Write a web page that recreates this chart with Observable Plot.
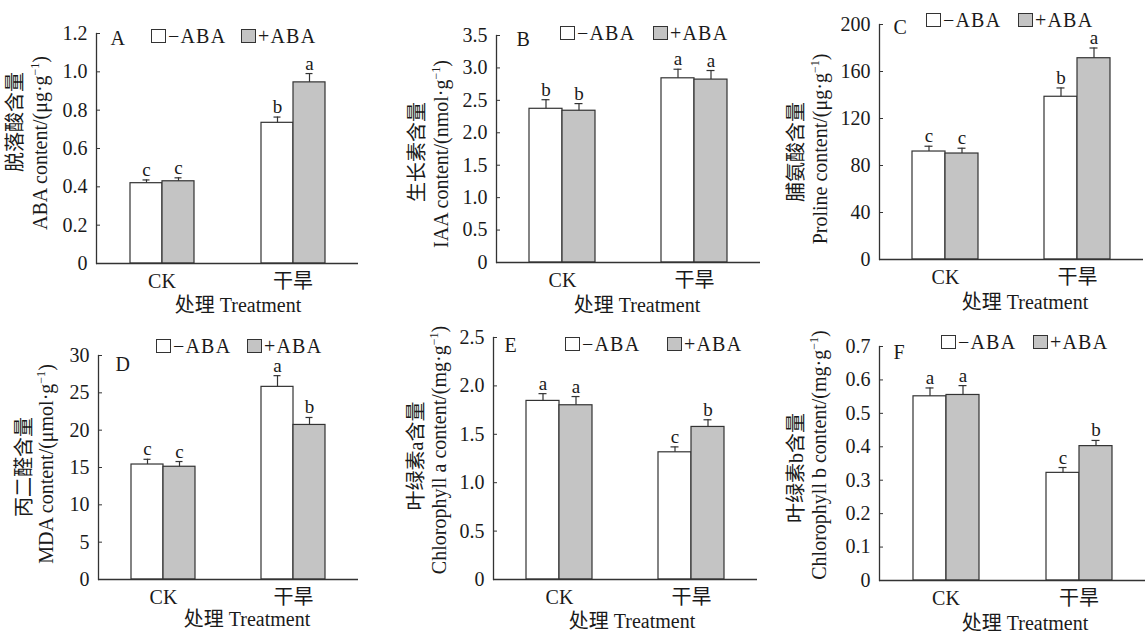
<!DOCTYPE html>
<html><head><meta charset="utf-8">
<script src="https://cdn.jsdelivr.net/npm/d3@7"></script>
<script src="https://cdn.jsdelivr.net/npm/@observablehq/plot@0.6"></script>
<style>
body{margin:0;background:#fff;}
#root{position:relative;width:1145px;height:633px;overflow:hidden;font-family:"Liberation Serif","Noto Sans CJK SC",serif;color:#1a1a1a;}
.panel{position:absolute;}
.panel svg{overflow:visible;}
.ylab{position:absolute;white-space:nowrap;font-size:20px;line-height:20px;transform:translate(-50%,-50%) rotate(-90deg);}
.xlab{position:absolute;white-space:nowrap;font-size:20px;line-height:20px;transform:translateX(-50%);}
.sw{position:absolute;box-sizing:border-box;width:15px;height:14px;border:1.2px solid #333;}
.lt{position:absolute;font-size:20px;line-height:12px;white-space:nowrap;letter-spacing:1.2px;}
sup{font-size:12px;vertical-align:0;position:relative;top:-8px;}
</style>
</head><body><div id="root"></div>
<script>
const FONT = '"Liberation Serif","Noto Sans CJK SC",serif';
const treatments = ["CK", "干旱"];
const seriesNames = ["−ABA", "+ABA"];
const seriesFill = ["#ffffff", "#c4c4c4"];
const xTitle = "处理 Treatment";

// order of values: CK −ABA, CK +ABA, 干旱 −ABA, 干旱 +ABA
const abaMean = [0.419, 0.429, 0.734, 0.945];
const abaErr  = [0.017, 0.018, 0.030, 0.046];
const abaSig  = ["c", "c", "b", "a"];
const abaTicks = [0, 0.2, 0.4, 0.6, 0.8, 1.0, 1.2];

const iaaMean = [2.37, 2.34, 2.84, 2.82];
const iaaErr  = [0.14, 0.11, 0.14, 0.14];
const iaaSig  = ["b", "b", "a", "a"];
const iaaTicks = [0, 0.5, 1.0, 1.5, 2.0, 2.5, 3.0, 3.5];

const proMean = [91.9, 90.2, 138.5, 171.3];
const proErr  = [4.5, 4.5, 7.5, 8.7];
const proSig  = ["c", "c", "b", "a"];
const proTicks = [0, 40, 80, 120, 160, 200];

const mdaMean = [15.4, 15.1, 25.8, 20.7];
const mdaErr  = [0.7, 0.7, 1.5, 1.0];
const mdaSig  = ["c", "c", "a", "b"];
const mdaTicks = [0, 5, 10, 15, 20, 25, 30];

const chlaMean = [1.845, 1.80, 1.314, 1.576];
const chlaErr  = [0.075, 0.09, 0.056, 0.074];
const chlaSig  = ["a", "a", "c", "b"];
const chlaTicks = [0, 0.5, 1.0, 1.5, 2.0, 2.5];

const chlbMean = [0.551, 0.555, 0.322, 0.402];
const chlbErr  = [0.025, 0.028, 0.016, 0.017];
const chlbSig  = ["a", "a", "c", "b"];
const chlbTicks = [0, 0.1, 0.2, 0.3, 0.4, 0.5, 0.6, 0.7];

const panelLetters = ["A", "B", "C", "D", "E", "F"];
const yLabel1 = ["脱落酸含量", "生长素含量", "脯氨酸含量", "丙二醛含量", "叶绿素a含量", "叶绿素b含量"];
const yLabel2 = ["ABA content/(μg·g<sup>−1</sup>)", "IAA content/(nmol·g<sup>−1</sup>)",
  "Proline content/(μg·g<sup>−1</sup>)", "MDA content/(μmol·g<sup>−1</sup>)",
  "Chlorophyll a content/(mg·g<sup>−1</sup>)", "Chlorophyll b content/(mg·g<sup>−1</sup>)"];

const panelData = [
  [abaMean, abaErr, abaSig, abaTicks, 1],
  [iaaMean, iaaErr, iaaSig, iaaTicks, 1],
  [proMean, proErr, proSig, proTicks, 0],
  [mdaMean, mdaErr, mdaSig, mdaTicks, 0],
  [chlaMean, chlaErr, chlaSig, chlaTicks, 1],
  [chlbMean, chlbErr, chlbSig, chlbTicks, 1]
];

// layout (pixels)
const layout = [
  {left:0,   top:0,   w:380, h:320, ml:96,  mr:22, mt:33, mb:57, ldx:14, ldy:11, y1:[15,122],  y2:[41,143],  xt:[238,312],  leg:[151,29,241]},
  {left:380, top:0,   w:385, h:320, ml:115, mr:5,  mt:35, mb:58, ldx:20, ldy:10, y1:[417,152], y2:[442,154], xt:[637,312],  leg:[560,26,653]},
  {left:765, top:0,   w:380, h:320, ml:114, mr:2,  mt:24, mb:61, ldx:14, ldy:9,  y1:[796,152], y2:[821,149], xt:[1025,309], leg:[926,13,1018]},
  {left:0,   top:320, w:380, h:313, ml:98,  mr:22, mt:35, mb:54, ldx:17, ldy:15, y1:[24,467],  y2:[47,464],  xt:[247,626],  leg:[156,339,247]},
  {left:380, top:320, w:385, h:313, ml:112, mr:8,  mt:17, mb:54, ldx:11, ldy:14, y1:[416,456], y2:[440,450], xt:[632,628],  leg:[565,337,667]},
  {left:765, top:320, w:380, h:313, ml:114, mr:0,  mt:26, mb:53, ldx:14, ldy:12, y1:[796,468], y2:[820,455], xt:[1025,630], leg:[941,335,1033]}
];

function rows(mean, err, sig) {
  const out = [];
  treatments.forEach((t, i) => seriesNames.forEach((s, j) => {
    const k = i * 2 + j;
    out.push({treatment: t, series: s, mean: mean[k], err: err[k], sig: sig[k]});
  }));
  return out;
}

const root = document.getElementById("root");
function addDiv(cls, html, x, y) {
  const d = document.createElement("div");
  d.className = cls; d.innerHTML = html;
  d.style.left = x + "px"; d.style.top = y + "px";
  root.appendChild(d); return d;
}

panelData.forEach(([mean, err, sig, ticks, dec], i) => {
  const L = layout[i];
  const data = rows(mean, err, sig);
  const fmt = d => d === 0 ? "0" : d.toFixed(dec);
  const chart = Plot.plot({
    width: L.w, height: L.h,
    marginLeft: L.ml, marginRight: L.mr, marginTop: L.mt, marginBottom: L.mb,
    style: {fontFamily: FONT, fontSize: "20px", color: "#1a1a1a", background: "transparent"},
    fx: {domain: treatments, padding: 0},
    x: {domain: seriesNames, paddingInner: 0, paddingOuter: 1, axis: null},
    y: {domain: [0, ticks[ticks.length - 1]]},
    color: {domain: seriesNames, range: seriesFill},
    marks: [
      Plot.barY(data, {fx: "treatment", x: "series", y: "mean", fill: "series", stroke: "#333", strokeWidth: 1.2}),
      Plot.ruleX(data, {fx: "treatment", x: "series", y1: d => d.mean, y2: d => d.mean + d.err, stroke: "#333", strokeWidth: 1.2}),
      Plot.tickY(data, {fx: "treatment", x: "series", y: d => d.mean + d.err, stroke: "#333", strokeWidth: 1.2, insetLeft: 12.5, insetRight: 12.5}),
      Plot.text(data, {fx: "treatment", x: "series", y: d => d.mean + d.err, text: "sig", dy: -4, lineAnchor: "bottom", fontSize: 19, fontFamily: FONT}),
      Plot.text([{treatment: "CK", letter: panelLetters[i]}], {fx: "treatment", text: "letter", frameAnchor: "top-left", dx: L.ldx, dy: L.ldy, lineAnchor: "bottom", textAnchor: "start", fontSize: 20, fontFamily: FONT}),
      Plot.ruleY([0], {stroke: "#333", strokeWidth: 1.3}),
      Plot.frame({anchor: "left", facetAnchor: "left", stroke: "#333", strokeWidth: 1.3}),
      Plot.axisY({ticks: ticks, tickFormat: fmt, tickSize: -4, tickPadding: 13, fontSize: 20, fontFamily: FONT, stroke: "#333", label: null}),
      Plot.axisFx({anchor: "bottom", tickSize: 0, tickPadding: 10, fontSize: 20, fontFamily: FONT, label: null})
    ]
  });
  const wrap = document.createElement("div");
  wrap.className = "panel";
  wrap.style.left = L.left + "px"; wrap.style.top = L.top + "px";
  wrap.appendChild(chart);
  root.appendChild(wrap);

  addDiv("ylab", yLabel1[i], L.y1[0], L.y1[1]);
  addDiv("ylab", yLabel2[i], L.y2[0], L.y2[1]);
  addDiv("xlab", xTitle, L.xt[0], L.xt[1] - 17);
  const [sx, sy, sx2] = L.leg;
  [sx, sx2].forEach((x, j) => {
    const s = addDiv("sw", "", x, sy);
    s.style.background = seriesFill[j];
    addDiv("lt", seriesNames[j], x + 17, sy + 13.5 - 12.75);
  });
});
</script></body></html>
